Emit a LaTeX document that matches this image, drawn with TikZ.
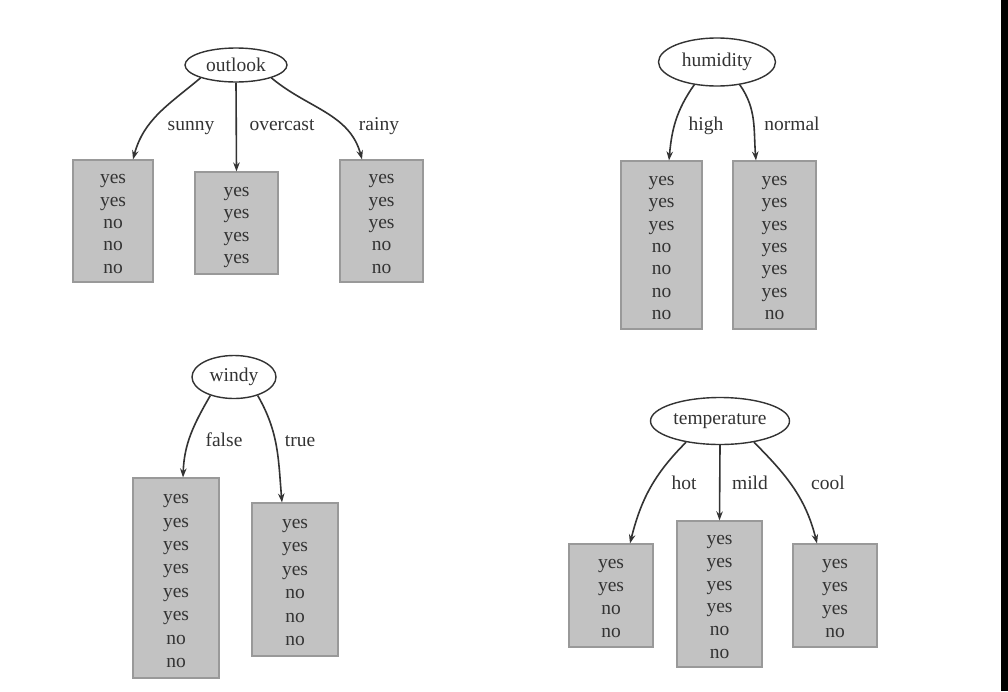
\documentclass[tikz,border=0pt]{standalone}
\usepackage{fontspec}
\setmainfont{Liberation Serif}
\usetikzlibrary{shapes.geometric,arrows.meta}
\definecolor{ink}{HTML}{333333}
\definecolor{boxfill}{HTML}{C2C2C2}
\definecolor{boxline}{HTML}{999999}
\newcommand\leaftop{\rule{0pt}{18pt}}
\newcommand\leafbot{\rule[-3pt]{0pt}{0pt}}
\begin{document}
\begin{tikzpicture}[x=1pt,y=-1pt,
  attr/.style={ellipse,draw=ink,line width=1.4pt,fill=white,inner sep=0pt,text=ink,font=\fontsize{19.5}{22}\selectfont},
  leaf/.style={rectangle,draw=boxline,line width=1.2pt,fill=boxfill,inner sep=0pt,align=center,text=ink},
  rowsA/.style={font=\fontsize{19.5}{22.3}\selectfont},
  rowsB/.style={font=\fontsize{19.5}{23.4}\selectfont},
  rowsC/.style={font=\fontsize{19.5}{22.8}\selectfont},
  lbl/.style={text=ink,font=\fontsize{19.5}{22}\selectfont,inner sep=0pt,anchor=base},
  edge/.style={draw=ink,line width=1.6pt,-{Stealth[length=9pt,width=6.5pt]}},
]
\fill[white] (0,0) rectangle (1008,691);
\fill[black] (1001,0) rectangle (1008,691);

% ---------- outlook ----------
\node[attr,minimum width=102pt,minimum height=34pt] (outlook) at (236,65) {outlook};
\node[leaf,rowsA,minimum width=80pt,minimum height=122pt] (sunny) at (113,221) {\leaftop yes\\yes\\no\\no\\no\leafbot};
\node[leaf,rowsA,minimum width=83pt,minimum height=102pt] (overcast) at (236.5,223) {\leaftop yes\\yes\\yes\\yes\leafbot};
\node[leaf,rowsA,minimum width=83pt,minimum height=122pt] (rainy) at (381.5,221) {\leaftop yes\\yes\\yes\\no\\no\leafbot};
\draw[edge] (outlook.200) to[out=220,in=75] ([xshift=20pt]sunny.north);
\draw[edge] (outlook.south) -- (overcast.north);
\draw[edge] (outlook.-20) to[out=-40,in=105] ([xshift=-19.5pt]rainy.north);
\node[lbl] (lsunny) at (191,130) {sunny};
\node[lbl] (lovercast) at (282,130) {overcast};
\node[lbl] (lrainy) at (379,130) {rainy};

% ---------- humidity ----------
\node[attr,minimum width=117pt,minimum height=48pt] (humidity) at (717,62) {humidity};
\node[leaf,rowsA,minimum width=81pt,minimum height=168pt] (high) at (661.5,245) {\leaftop yes\\yes\\yes\\no\\no\\no\\no\leafbot};
\node[leaf,rowsA,minimum width=83pt,minimum height=168pt] (normal) at (774.5,245) {\leaftop yes\\yes\\yes\\yes\\yes\\yes\\no\leafbot};
\draw[edge] (humidity.225) to[out=235,in=85] ([xshift=7.5pt]high.north);
\draw[edge] (humidity.-45) to[out=-55,in=95] ([xshift=-18.5pt]normal.north);
\node[lbl] (lhigh) at (706,130) {high};
\node[lbl] (lnormal) at (792,130) {normal};

% ---------- windy ----------
\node[attr,minimum width=84pt,minimum height=43pt] (windy) at (234,377) {windy};
\node[leaf,rowsB,minimum width=86pt,minimum height=200pt] (false) at (176,578) {\leaftop yes\\yes\\yes\\yes\\yes\\yes\\no\\no\leafbot};
\node[leaf,rowsB,minimum width=86pt,minimum height=153pt] (true) at (295,579.5) {\leaftop yes\\yes\\yes\\no\\no\\no\leafbot};
\draw[edge] (windy.218) to[out=240,in=88] ([xshift=7pt]false.north);
\draw[edge] (windy.-38) to[out=-60,in=95] ([xshift=-13pt]true.north);
\node[lbl] (lfalse) at (224,446) {false};
\node[lbl] (ltrue) at (300,446) {true};

% ---------- temperature ----------
\node[attr,minimum width=139pt,minimum height=47pt] (temperature) at (720,421) {temperature};
\node[leaf,rowsC,minimum width=84pt,minimum height=103pt] (hot) at (611,595.5) {\leaftop yes\\yes\\no\\no\leafbot};
\node[leaf,rowsC,minimum width=85pt,minimum height=146pt] (mild) at (719.5,594) {\leaftop yes\\yes\\yes\\yes\\no\\no\leafbot};
\node[leaf,rowsC,minimum width=84pt,minimum height=103pt] (cool) at (835,595.5) {\leaftop yes\\yes\\yes\\no\leafbot};
\draw[edge] (temperature.212) to[out=225,in=76] ([xshift=19pt]hot.north);
\draw[edge] (temperature.south) -- (mild.north);
\draw[edge] (temperature.-32) to[out=-45,in=104] ([xshift=-18pt]cool.north);
\node[lbl] (lhot) at (684,489) {hot};
\node[lbl] (lmild) at (750,489) {mild};
\node[lbl] (lcool) at (828,489) {cool};
\end{tikzpicture}
\end{document}
